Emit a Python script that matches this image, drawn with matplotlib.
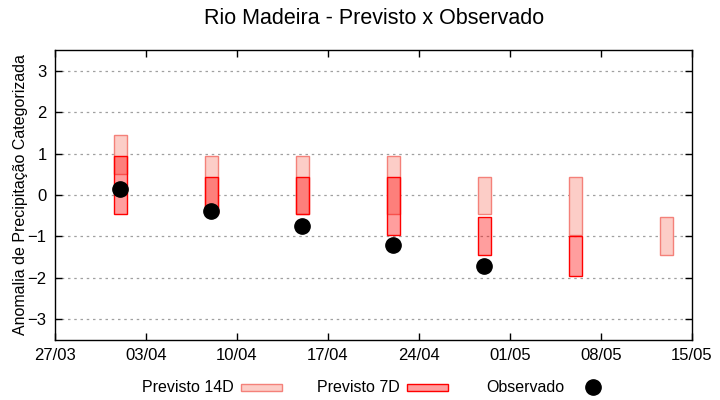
import matplotlib
matplotlib.use('Agg')
import matplotlib.pyplot as plt
import matplotlib.dates as mdates
import matplotlib.patches as mpatches
import matplotlib.lines as mlines
import numpy as np
from datetime import datetime, timedelta

plt.rcParams['font.family'] = ['Liberation Sans', 'DejaVu Sans']

# datas das previsoes
datas = ['01/04', '08/04', '15/04', '22/04', '29/04', '06/05', '13/05']
# previsto 14 dias (faixa min / max)
p14_min = [0.50, -0.45, -0.45, -0.45, -0.45, -0.96, -1.45]
p14_max = [1.45, 0.95, 0.95, 0.95, 0.43, 0.43, -0.52]
# previsto 7 dias (faixa min / max)
p7_min = [-0.45, -0.45, -0.45, -0.96, -1.45, -1.96, np.nan]
p7_max = [0.95, 0.43, 0.43, 0.43, -0.52, -1.00, np.nan]
# observado
obs = [0.14, -0.39, -0.76, -1.20, -1.71]

cor14 = '#fccdc7'
borda14 = '#f4817a'
cor7 = (1, 0, 0, 0.38)
borda7 = '#ff0000'

ano = 2021
x = [datetime.strptime(d + '/' + str(ano), '%d/%m/%Y') for d in datas]
xn = mdates.date2num(x)

fig = plt.figure(figsize=(7.2, 4), dpi=100)
ax = fig.add_axes([55/720, 60/400, 637/720, 290/400])

h14 = np.array(p14_max) - np.array(p14_min)
h7 = np.array(p7_max) - np.array(p7_min)
ax.bar(xn, h14, bottom=p14_min, width=1.0, color=cor14,
       edgecolor=borda14, linewidth=1.0, zorder=2)
ax.bar(xn, h7, bottom=p7_min, width=1.0, color=cor7,
       edgecolor=borda7, linewidth=1.0, zorder=3)
ax.plot(xn[:len(obs)], obs, 'o', color='black', markersize=11, zorder=4,
        linestyle='none')

# eixos
inicio = datetime(ano, 3, 27)
ax.set_xlim(mdates.date2num(inicio), mdates.date2num(inicio + timedelta(days=49)))
ax.set_ylim(-3.5, 3.5)
ax.set_yticks([-3, -2, -1, 0, 1, 2, 3])
ax.set_xticks([mdates.date2num(inicio + timedelta(days=7 * i)) for i in range(8)])
ax.xaxis.set_major_formatter(mdates.DateFormatter('%d/%m'))
ax.tick_params(direction='in', top=True, right=True, length=5, width=1,
               labelsize=12, colors='black', pad=6)
for s in ax.spines.values():
    s.set_linewidth(1.0)
ax.grid(axis='y', color='#a0a0a0', linestyle=(0, (2, 3)), linewidth=0.9, zorder=0)
ax.set_axisbelow(True)

ax.set_ylabel('Anomalia de Precipitação Categorizada', fontsize=11.5)
ax.yaxis.set_label_coords(-27/637, 0.5)
fig.text(374/720, 1 - 19/400, 'Rio Madeira - Previsto x Observado',
         fontsize=15.5, ha='center', va='center')

# legenda (manual, estilo gnuplot)
ly = 1 - 387/400
fig.text(234/720, ly, 'Previsto 14D', fontsize=11.5, ha='right', va='center')
fig.patches.append(mpatches.Rectangle((241/720, ly - 3.5/400), 41/720, 7/400,
                   transform=fig.transFigure, facecolor=cor14, edgecolor=borda14, lw=1.0))
fig.text(400/720, ly, 'Previsto 7D', fontsize=11.5, ha='right', va='center')
fig.patches.append(mpatches.Rectangle((407/720, ly - 3.5/400), 41/720, 7/400,
                   transform=fig.transFigure, facecolor=cor7, edgecolor=borda7, lw=1.0))
fig.text(564/720, ly, 'Observado', fontsize=11.5, ha='right', va='center')
fig.lines.append(mlines.Line2D([593/720], [ly], marker='o', color='black',
                 markersize=11, transform=fig.transFigure, linestyle='none'))

fig.savefig('out.png', dpi=100)
